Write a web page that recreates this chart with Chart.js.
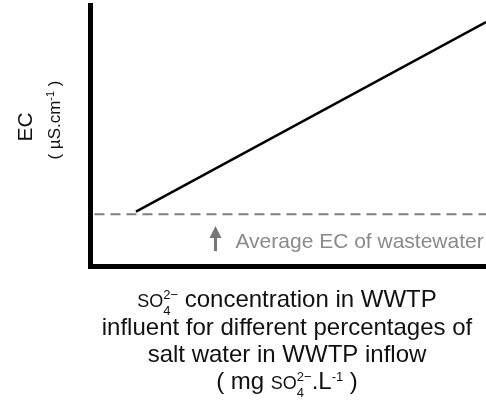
<!DOCTYPE html>
<html>
<head>
<meta charset="utf-8">
<script src="https://cdn.jsdelivr.net/npm/chart.js@4/dist/chart.umd.min.js"></script>
<style>
  html, body { margin: 0; padding: 0; background: #fff; }
  #ec_chart { display: block; }
</style>
</head>
<body>
<canvas id="ec_chart" width="486" height="400"></canvas>
<script>
// schematic values (no units on axes, relative 0-100 scale)
const concentrationX = [11.5, 100];
const ecValues = [21, 93.5];
const baselineX = [1, 100];
const averageEC = [20, 20];
const arrowX = [31.6, 31.6];
const arrowY = [5.9, 15.5];

const xTitleLines = [
  [{ t: "SO", size: 18 }, { sup: "2\u2212", sub: "4", size: 13 }, { t: " concentration in WWTP", size: 24 }],
  [{ t: "influent for different percentages of", size: 24 }],
  [{ t: "salt water in WWTP inflow", size: 24 }],
  [{ t: "( mg ", size: 24 }, { t: "SO", size: 18 }, { sup: "2\u2212", sub: "4", size: 13 }, { t: ".L", size: 24 }, { t: "-1", size: 13, dy: -8 }, { t: " )", size: 24 }],
];
const yTitle = [{ t: "EC", size: 21 }];
const yUnits = [{ t: "( \u00b5S.cm", size: 17 }, { t: "-1", size: 11, dy: -6 }, { t: " )", size: 17 }];
const noteText = "Average EC of wastewater";

const FONT = "'Liberation Sans', Arial, sans-serif";

const measureRun = (ctx, r) => {
  ctx.font = r.size + "px " + FONT;
  if (r.sup !== undefined) {
    return Math.max(ctx.measureText(r.sup).width, ctx.measureText(r.sub).width);
  }
  return ctx.measureText(r.t).width;
};

const drawRuns = (ctx, runs, cx, baseline, color) => {
  const widths = runs.map((r) => measureRun(ctx, r));
  let x = cx - widths.reduce((a, b) => a + b, 0) / 2;
  ctx.fillStyle = color;
  ctx.textAlign = "left";
  ctx.textBaseline = "alphabetic";
  runs.forEach((r, i) => {
    ctx.font = r.size + "px " + FONT;
    if (r.sup !== undefined) {
      ctx.fillText(r.sup, x, baseline - 8);
      ctx.fillText(r.sub, x, baseline + 8);
    } else {
      ctx.fillText(r.t, x, baseline + (r.dy || 0));
    }
    x += widths[i];
  });
};

const textPlugin = {
  id: "schematicText",
  afterDraw(chart) {
    const ctx = chart.ctx;
    const xs = chart.scales.x;
    const ys = chart.scales.y;
    ctx.save();

    // arrow pointing up at the average EC line
    const ax = xs.getPixelForValue(arrowX[0]);
    const yBottom = ys.getPixelForValue(arrowY[0]);
    const yTop = ys.getPixelForValue(arrowY[1]);
    ctx.strokeStyle = "#777";
    ctx.fillStyle = "#777";
    ctx.lineWidth = 3;
    ctx.beginPath();
    ctx.moveTo(ax, yBottom);
    ctx.lineTo(ax, yTop + 8);
    ctx.stroke();
    ctx.beginPath();
    ctx.moveTo(ax, yTop);
    ctx.lineTo(ax - 6, yTop + 12);
    ctx.lineTo(ax + 6, yTop + 12);
    ctx.closePath();
    ctx.fill();

    ctx.font = "21px " + FONT;
    ctx.fillStyle = "#8a8a8a";
    ctx.textAlign = "left";
    ctx.fillText(noteText, ax + 20, yBottom - 3);

    // x axis title
    const baselines = [307, 334.5, 361.5, 389];
    xTitleLines.forEach((line, i) => drawRuns(ctx, line, 287, baselines[i], "#111"));

    // y axis title (rotated)
    ctx.save();
    ctx.translate(32, 127);
    ctx.rotate(-Math.PI / 2);
    drawRuns(ctx, yTitle, 0, 0, "#111");
    ctx.restore();
    ctx.save();
    ctx.translate(60, 120);
    ctx.rotate(-Math.PI / 2);
    drawRuns(ctx, yUnits, 0, 0, "#111");
    ctx.restore();

    ctx.restore();
  },
};

const ctx = document.getElementById("ec_chart").getContext("2d");

let configuration = {
  type: "line",
  data: {
    datasets: [
      {
        label: "EC",
        data: concentrationX.map((x, i) => ({ x: x, y: ecValues[i] })),
        borderColor: "#000",
        borderWidth: 2.5,
        pointRadius: 0,
        clip: false,
      },
      {
        label: "Average EC of wastewater",
        data: baselineX.map((x, i) => ({ x: x, y: averageEC[i] })),
        borderColor: "#7f7f7f",
        borderWidth: 2,
        borderDash: [10, 6],
        pointRadius: 0,
        clip: false,
      },
    ],
  },
  options: {
    responsive: false,
    animation: false,
    layout: { padding: { left: 90.5, right: 0, top: 5, bottom: 133.5 } },
    plugins: { legend: { display: false }, tooltip: { enabled: false } },
    scales: {
      x: {
        type: "linear",
        min: 0,
        max: 100,
        ticks: { display: false },
        grid: { color: "transparent", drawTicks: false },
        border: { display: true, color: "#000", width: 5 },
        afterFit: (s) => { s.height = 0; },
      },
      y: {
        type: "linear",
        min: 0,
        max: 100,
        ticks: { display: false },
        grid: { color: "transparent", drawTicks: false },
        border: { display: true, color: "#000", width: 5 },
        afterFit: (s) => { s.width = 0; },
      },
    },
  },
  plugins: [textPlugin],
};

new Chart(ctx, configuration);
</script>
</body>
</html>
